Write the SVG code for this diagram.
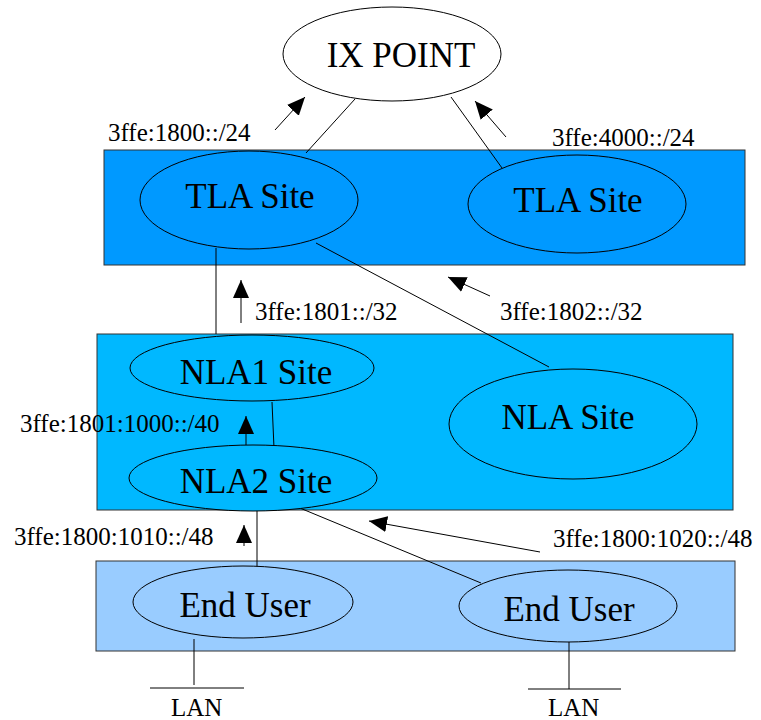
<svg xmlns="http://www.w3.org/2000/svg" width="761" height="720" viewBox="0 0 761 720">
<style>
text{font-family:"Liberation Serif","Times New Roman",serif;fill:#000}
.n{font-size:35px;text-anchor:middle}
.l{font-size:25px}
.box{stroke:#333;stroke-width:1}
.el{stroke:#000;stroke-width:1}
.c{stroke:#000;stroke-width:1;fill:none}
.a{stroke:#000;stroke-width:1;fill:none;marker-end:url(#ah)}
</style>
<defs>
<marker id="ah" markerUnits="userSpaceOnUse" markerWidth="18" markerHeight="18" viewBox="0 0 18 18" refX="18" refY="9" orient="auto">
<path d="M0,1 L18,9 L0,17 Z" fill="#000"/>
</marker>
</defs>
<g id="tla-layer"><rect class="box" x="104" y="150" width="641" height="115" fill="#0099ff"/></g>
<g id="nla-layer"><rect class="box" x="97" y="334" width="636" height="176" fill="#00b8ff"/></g>
<g id="enduser-layer"><rect class="box" x="96" y="561" width="639" height="90" fill="#99ccff"/></g>
<g id="connectors">
<line class="c" x1="355" y1="99" x2="306" y2="153"/>
<line class="c" x1="451" y1="97" x2="502" y2="168"/>
<line class="c" x1="216" y1="248" x2="216" y2="334"/>
<line class="c" x1="316" y1="243" x2="549" y2="367"/>
<line class="c" x1="272" y1="402" x2="274" y2="448"/>
<line class="c" x1="257" y1="510" x2="257" y2="569"/>
<line class="c" x1="295" y1="506" x2="481" y2="583"/>
<line class="c" x1="194" y1="639" x2="194" y2="685"/>
<line class="c" x1="150" y1="688" x2="244" y2="688"/>
<line class="c" x1="569" y1="642" x2="569" y2="689"/>
<line class="c" x1="528" y1="689" x2="621" y2="689"/>
<line class="a" x1="275" y1="130" x2="305" y2="97"/>
<line class="a" x1="506" y1="137" x2="475" y2="101"/>
<line class="a" x1="241" y1="323" x2="241" y2="280"/>
<line class="a" x1="490" y1="296" x2="448" y2="277"/>
<line class="a" x1="246" y1="445" x2="246" y2="416"/>
<line class="a" x1="244" y1="546" x2="244" y2="525"/>
<line class="a" x1="540" y1="552" x2="369" y2="521"/>
</g>
<g id="ix-point"><ellipse class="el" cx="392" cy="54" rx="109" ry="47" fill="#fff"/><text class="n" x="401" y="67">IX POINT</text></g>
<g id="tla-site-1"><ellipse class="el" cx="249" cy="200" rx="109" ry="49" fill="#0099ff"/><text class="n" x="250" y="208">TLA Site</text></g>
<g id="tla-site-2"><ellipse class="el" cx="577" cy="204" rx="109" ry="49" fill="#0099ff"/><text class="n" x="578" y="212">TLA Site</text></g>
<g id="nla1-site"><ellipse class="el" cx="252" cy="368" rx="122" ry="33" fill="#00b8ff"/><text class="n" x="256" y="384">NLA1 Site</text></g>
<g id="nla2-site"><ellipse class="el" cx="253" cy="478" rx="124" ry="33" fill="#00b8ff"/><text class="n" x="256" y="493">NLA2 Site</text></g>
<g id="nla-site"><ellipse class="el" cx="573" cy="424" rx="124" ry="55" fill="#00b8ff"/><text class="n" x="568" y="429">NLA Site</text></g>
<g id="end-user-1"><ellipse class="el" cx="243" cy="602" rx="110" ry="36" fill="#99ccff"/><text class="n" x="245" y="617">End User</text></g>
<g id="end-user-2"><ellipse class="el" cx="568" cy="606" rx="109" ry="36" fill="#99ccff"/><text class="n" x="569" y="621">End User</text></g>
<g id="labels">
<text class="l" x="108" y="141">3ffe:1800::/24</text>
<text class="l" x="552" y="146">3ffe:4000::/24</text>
<text class="l" x="255" y="320">3ffe:1801::/32</text>
<text class="l" x="500" y="320">3ffe:1802::/32</text>
<text class="l" x="20" y="432">3ffe:1801:1000::/40</text>
<text class="l" x="14" y="545">3ffe:1800:1010::/48</text>
<text class="l" x="553" y="547">3ffe:1800:1020::/48</text>
<text class="l" x="171" y="716">LAN</text>
<text class="l" x="548" y="716">LAN</text>
</g>
</svg>
